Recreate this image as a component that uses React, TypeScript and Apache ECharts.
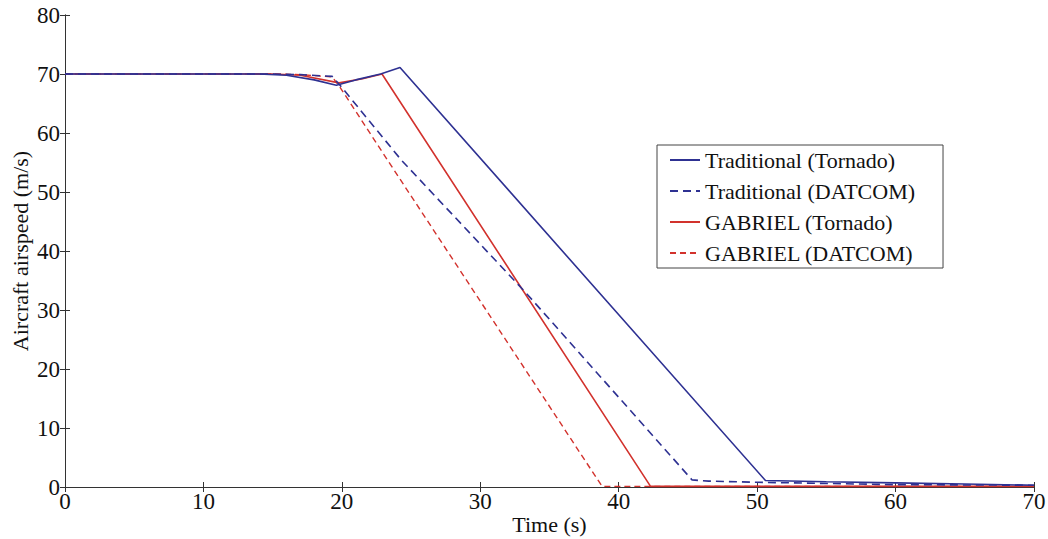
import React, { useEffect, useRef } from "react";
import * as echarts from "echarts";

const xTicks = [0, 10, 20, 30, 40, 50, 60, 70];
const yTicks = [0, 10, 20, 30, 40, 50, 60, 70, 80];

const seriesNames = [
  "Traditional (Tornado)",
  "Traditional (DATCOM)",
  "GABRIEL (Tornado)",
  "GABRIEL (DATCOM)",
];

const tradTornadoT = [0, 10, 14, 16, 18, 19.6, 21, 22.8, 24.2, 50.6, 55, 60, 65, 70];
const tradTornadoV = [70, 70, 70, 69.8, 69.0, 68.1, 69.0, 70.0, 71.1, 1.1, 0.9, 0.7, 0.5, 0.3];

const tradDatcomT = [0, 10, 15, 17, 19.3, 19.9, 24.3, 33.3, 45.3, 46.5, 50, 55, 60, 70];
const tradDatcomV = [70, 70, 70, 69.9, 69.6, 68.0, 55.4, 32.9, 1.2, 1.0, 0.8, 0.6, 0.4, 0.3];

const gabTornadoT = [0, 10, 15, 17, 19.8, 21.5, 22.9, 42.3, 45, 50, 60, 70];
const gabTornadoV = [70, 70, 70, 69.8, 68.5, 69.2, 70.0, 0.1, 0.1, 0.1, 0.1, 0.1];

const gabDatcomT = [0, 10, 15, 17, 19.3, 19.8, 23.3, 38.8, 40, 50, 60, 70];
const gabDatcomV = [70, 70, 70, 69.9, 69.5, 68.0, 55.4, 0.1, 0.1, 0.1, 0.1, 0.1];

const zip = (t: number[], v: number[]) => t.map((x, i) => [x, v[i]]);

const BLUE = "#2e3192";
const RED = "#d2322d";
const FONT = "'Liberation Serif', 'Times New Roman', serif";

export default function App() {
  const ref = useRef<HTMLDivElement>(null);
  useEffect(() => {
    const chart = echarts.init(ref.current!, null, { renderer: "svg" });
    const axisCommon = {
      type: "value" as const,
      axisLine: { show: true, lineStyle: { color: "#333", width: 1 } },
      axisTick: { show: true, inside: true, length: 5, lineStyle: { color: "#333" } },
      splitLine: { show: false },
    };
    chart.setOption({
      animation: false,
      backgroundColor: "#fff",
      grid: {
        left: 65,
        right: 14,
        top: 15,
        bottom: 52,
        containLabel: false,
        outerBoundsMode: "none",
      },
      legend: {
        left: 657,
        top: 145,
        orient: "vertical",
        data: seriesNames,
        backgroundColor: "#fff",
        borderColor: "#444",
        borderWidth: 1,
        padding: [4, 28, 4, 12],
        itemWidth: 30,
        itemHeight: 14,
        itemGap: 9,
        itemStyle: { opacity: 0 },
        textStyle: { fontFamily: FONT, fontSize: 22, color: "#111" },
      },
      xAxis: [
        {
          ...axisCommon,
          min: 0,
          max: 70,
          interval: 10,
          name: "Time (s)",
          nameLocation: "middle",
          nameGap: 26,
          nameMoveOverlap: false,
          nameTextStyle: { fontFamily: FONT, fontSize: 22, color: "#111" },
          axisLabel: { fontFamily: FONT, fontSize: 23, color: "#111", margin: 3 },
        },
        {
          ...axisCommon,
          position: "top",
          min: 0,
          max: 70,
          interval: 10,
          axisLabel: { show: false },
        },
      ],
      yAxis: [
        {
          ...axisCommon,
          min: 0,
          max: 80,
          interval: 10,
          name: "Aircraft airspeed (m/s)",
          nameLocation: "middle",
          nameGap: 34,
          nameMoveOverlap: false,
          nameTextStyle: { fontFamily: FONT, fontSize: 22, color: "#111" },
          axisLabel: { fontFamily: FONT, fontSize: 23, color: "#111", margin: 5 },
        },
        {
          ...axisCommon,
          position: "right",
          min: 0,
          max: 80,
          interval: 10,
          axisLabel: { show: false },
        },
      ],
      series: [
        {
          name: seriesNames[0],
          type: "line",
          data: zip(tradTornadoT, tradTornadoV),
          symbol: "none",
          lineStyle: { color: BLUE, width: 1.6, type: "solid" },
          itemStyle: { color: BLUE },
          z: 4,
        },
        {
          name: seriesNames[1],
          type: "line",
          data: zip(tradDatcomT, tradDatcomV),
          symbol: "none",
          lineStyle: { color: BLUE, width: 1.6, type: [8, 5] },
          itemStyle: { color: BLUE },
          z: 3,
        },
        {
          name: seriesNames[2],
          type: "line",
          data: zip(gabTornadoT, gabTornadoV),
          symbol: "none",
          lineStyle: { color: RED, width: 1.6, type: "solid" },
          itemStyle: { color: RED },
          z: 2,
        },
        {
          name: seriesNames[3],
          type: "line",
          data: zip(gabDatcomT, gabDatcomV),
          symbol: "none",
          lineStyle: { color: RED, width: 1.4, type: [6, 4] },
          itemStyle: { color: RED },
          z: 1,
        },
      ],
    });
    return () => chart.dispose();
  }, []);
  return (
    <div
      ref={ref}
      style={{ position: "fixed", left: 0, top: 0, width: 1048, height: 539, background: "#fff" }}
    />
  );
}
